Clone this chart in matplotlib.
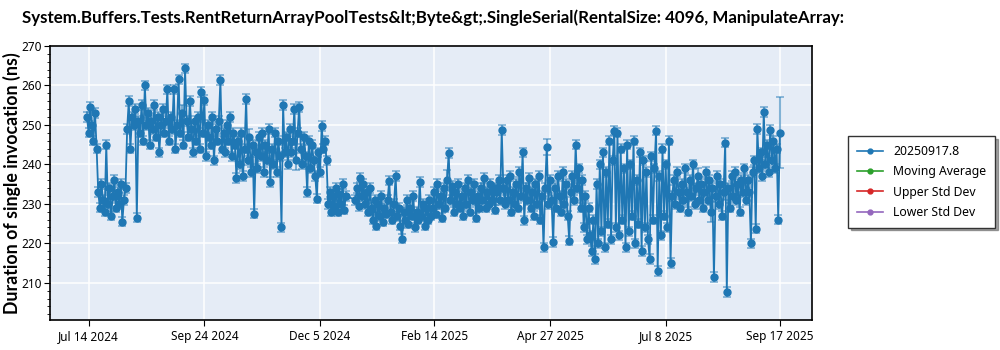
"""
Duracao por invocacao - RentReturnArrayPool SingleSerial
"""

import numpy as np
import pandas as pd
import matplotlib
matplotlib.use("Agg")
import matplotlib.pyplot as plt
import matplotlib.dates as mdates
from matplotlib.lines import Line2D
from matplotlib.ticker import MultipleLocator

# dados (ns), um valor por dia de 13/07/2024 a 17/09/2025, sem runs entre 22 e 26/12
start_date = "2024-07-13"
end_date = "2025-09-17"
gap_start, gap_end = "2024-12-22", "2024-12-26"

duration_ns = [
    # jul 2024
    252, 248, 254.5, 250, 246, 253, 244,
    233, 229, 235, 231, 228, 245, 230, 234, 227, 232, 236, 229, 233, 230, 235, 225.5, 231, 234,
    # ago
    249, 256, 244, 252, 250, 254, 226.5, 251, 248, 255, 246, 260, 250, 253, 245, 251, 249, 255, 247, 252,
    243, 250, 254, 248, 251, 259, 246, 252, 249, 259, 244, 250, 261.5, 248, 253, 245, 264.3, 251, 247, 256,
    # set / out
    249, 243, 251, 246, 252, 244, 258.3, 248, 256.3, 242, 250, 247, 245, 252, 241, 249, 246, 251, 261.3, 244,
    248, 243, 250, 246, 252, 242, 248, 245,
    236.5, 246, 240, 248, 237, 244, 256.5, 241, 247, 238, 245, 227.5, 243, 239, 247, 242, 248, 238, 245, 241,
    249, 235.5, 244, 240, 248, 238, 246, 242, 224, 255, 243,
    # nov / dez
    247, 240, 249, 243, 246, 254, 241, 248, 254.5, 244, 240, 247, 242, 233, 246, 239, 245, 241, 237, 231.3,
    243, 238, 249.7, 244, 246,
    241, 230, 233, 228, 232, 229.5, 234, 228, 232.5, 230, 235, 228.5, 232,
    # depois do natal
    231, 234, 229.5, 236.6, 232, 235, 230, 233, 228, 234,
    229, 226, 231, 224.5, 230, 227, 232, 225.5, 229, 227.5, 231, 235.9, 228,
    # jan / fev 2025
    226, 230, 237, 227, 229, 224.5, 221.2, 228, 226, 231, 225, 229, 227, 232, 224, 228, 226, 235.5, 227, 230,
    224.5, 229, 226, 231, 227, 229,
    233, 227.5, 235, 230, 232, 226.5, 234, 229, 236, 242.9, 231, 234.5, 228, 233, 230, 235, 229,
    # mar
    232, 227, 234, 230, 236, 228, 233, 231, 235, 226.5, 232, 229, 234, 231, 236.5, 229, 233, 230, 235, 231,
    234, 228.5, 233, 236, 231, 248.7,
    # abr
    234, 230, 236, 231, 237, 228, 233, 230, 235, 229, 238, 232, 243, 225.8, 234, 231, 236.5, 229, 233, 227,
    235, 230, 237, 226, 232, 219, 234, 244.3, 230,
    # mai
    236, 231, 220.3, 234, 229, 237, 232, 228, 238, 230, 235, 227, 220.7, 233, 237, 231, 245, 234, 239, 229,
    236, 224, 232, 221, 229, 222,
    # mai / jun (instavel)
    218, 226, 216, 235, 220, 240, 223, 243, 219, 238, 225, 246, 221, 241, 248.5, 224, 248, 222, 244, 226,
    239, 219, 245, 223, 240, 227, 246, 220, 236, 225, 243, 218, 241, 224, 238, 221, 216, 242, 226, 239,
    248.5, 213, 237, 222, 244, 227, 240, 224, 246, 215,
    # jul
    232, 236, 230, 238, 233, 229, 235, 231, 239, 233, 228, 236, 232, 240, 230, 234, 237, 231, 235, 229,
    233, 238, 231, 236, 228, 234, 211.5, 232, 237, 230, 235, 227, 233,
    245.5, 207.7,
    # ago / set
    234, 229, 237, 232, 238, 231, 235, 228, 236, 233, 239, 231, 236, 233,
    220, 238, 241, 223.7, 249, 239, 243, 237, 253.3, 240, 245, 238, 248.7, 241, 246, 239, 244, 226, 248,
]

# barras de erro: padrao + algumas maiores
err_default = 1.2
err_overrides = {
    "2024-09-10": 2.0, "2024-10-22": 2.0, "2024-11-20": 2.5, "2025-02-22": 2.5,
    "2025-03-25": 2.0, "2025-04-25": 2.0, "2025-07-28": 2.0, "2025-08-05": 2.5,
    "2025-08-13": 2.0, "2025-09-17": 9.0,
}

title = ("System.Buffers.Tests.RentReturnArrayPoolTests&lt;Byte&gt;.SingleSerial"
         "(RentalSize: 4096, ManipulateArray:")
legend_names = ["20250917.8", "Moving Average", "Upper Std Dev", "Lower Std Dev"]
legend_colors = ["#1f77b4", "#2ca02c", "#d62728", "#9467bd"]
tick_dates = ["2024-07-14", "2024-09-24", "2024-12-05", "2025-02-14",
              "2025-04-27", "2025-07-08", "2025-09-17"]

# datas
all_days = pd.date_range(start_date, end_date, freq="D")
dates = all_days[(all_days < gap_start) | (all_days > gap_end)]
n = min(len(dates), len(duration_ns))
dates = dates[:n]
vals = np.array(duration_ns[:n], dtype=float)
errs = np.array([err_overrides.get(d.strftime("%Y-%m-%d"), err_default) for d in dates])

plt.rcParams['font.family'] = ['Noto Sans', 'DejaVu Sans']
bold_font = ['Lato', 'DejaVu Sans']

fig = plt.figure(figsize=(10, 3.5), dpi=100)
ax = fig.add_axes([0.05, 0.086, 0.762, 0.783])
ax.set_facecolor("#e5ecf6")

ax.errorbar(dates, vals, yerr=errs, fmt="-o", color="#1f77b4", ms=5, lw=1.3,
            ecolor=(0.12, 0.47, 0.71, 0.55), elinewidth=1.5, capsize=3, capthick=1.2,
            zorder=3)

ax.set_xlim(pd.Timestamp("2024-06-20"), pd.Timestamp("2025-10-07"))
ax.set_ylim(200.6, 270)
ax.yaxis.set_major_locator(MultipleLocator(10))
ax.yaxis.set_minor_locator(MultipleLocator(2))
ax.set_xticks([pd.Timestamp(t) for t in tick_dates])
ax.xaxis.set_major_formatter(mdates.DateFormatter("%b %-d %Y"))

ax.grid(True, which="major", color="white", lw=1.1, zorder=0)
ax.set_axisbelow(True)
for s in ax.spines.values():
    s.set_color("black")
    s.set_linewidth(1.2)
ax.tick_params(axis="both", labelsize=8.5, colors="black", length=4)
ax.tick_params(axis="y", which="both", pad=2)
ax.tick_params(axis="y", which="minor", length=2)

fig.text(0.012, 0.476, "Duration of single invocation (ns)", fontsize=12.8, fontweight="bold",
         family=bold_font, rotation=90, ha="center", va="center")

fig.text(0.022, 1 - 18 / 350, title, fontsize=12.2, fontweight="bold", family=bold_font,
         ha="left", va="center")

handles = [Line2D([], [], color=c, marker="o", ms=3.5, lw=1.2) for c in legend_colors]
leg = fig.legend(handles, legend_names, loc="center left", bbox_to_anchor=(0.848, 0.48),
                 fontsize=8.8, frameon=True, fancybox=False, shadow=True, borderaxespad=0,
                 edgecolor="#333333", borderpad=0.7, labelspacing=0.6, handlelength=2.2)
leg.get_frame().set_linewidth(1.0)

fig.savefig("out.png", dpi=100)
